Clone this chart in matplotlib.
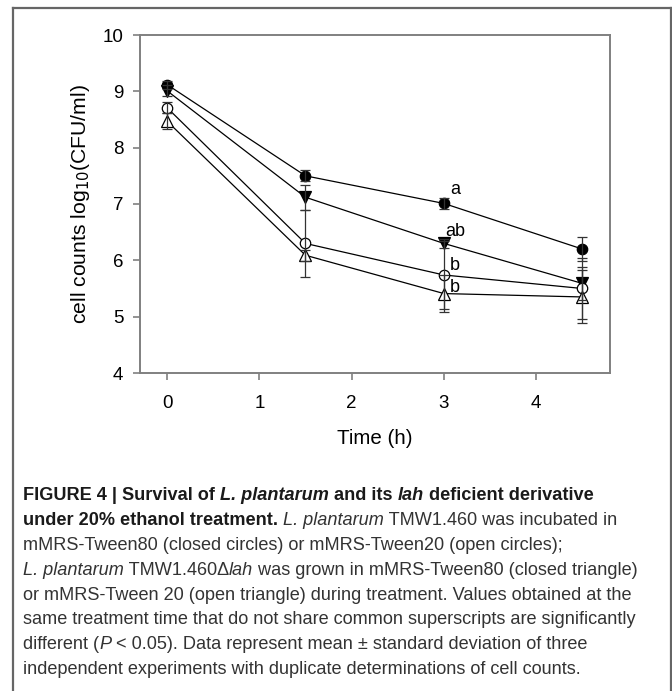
import matplotlib
matplotlib.use("Agg")
import matplotlib.pyplot as plt
from matplotlib.lines import Line2D

plt.rcParams['font.family'] = ['Liberation Sans', 'DejaVu Sans']

# data
time_h = [0, 1.5, 3, 4.5]
wt_t80 = [9.12, 7.50, 7.01, 6.20]      # closed circles
wt_t80_sd = [0.07, 0.10, 0.10, 0.22]
lah_t80 = [9.01, 7.12, 6.30, 5.59]     # closed triangles
lah_t80_sd = [0.10, 0.22, 0.08, 0.30]
wt_t20 = [8.71, 6.30, 5.74, 5.50]      # open circles
wt_t20_sd = [0.10, 0.60, 0.60, 0.55]
lah_t20 = [8.47, 6.09, 5.41, 5.35]     # open triangles
lah_t20_sd = [0.14, 0.10, 0.33, 0.47]

letters = ['a', 'ab', 'b', 'b']
letter_y = [7.26, 6.52, 5.90, 5.52]

W, H = 672, 691
fig = plt.figure(figsize=(W / 100, H / 100), dpi=100)
ax = fig.add_axes([140 / W, 1 - 373 / H, 470 / W, 338 / H])

series = [
    (wt_t80, wt_t80_sd, 'o', 'black'),
    (lah_t80, lah_t80_sd, 'v', 'black'),
    (wt_t20, wt_t20_sd, 'o', 'white'),
    (lah_t20, lah_t20_sd, '^', 'white'),
]
for y, sd, m, fc in series:
    ax.plot(time_h, y, color='black', lw=0.9, marker=m, ms=7.5 if m == 'o' else 8,
            mfc=fc, mec='black', mew=0.9, zorder=2)
    ax.errorbar(time_h, y, yerr=sd, fmt='none', ecolor='#333333', elinewidth=0.9,
                capsize=3.5, capthick=0.9, zorder=3)

for lab, ly in zip(letters, letter_y):
    ax.text(3.12, ly, lab, fontsize=13, ha='center', va='center')

ax.set_xlim(-0.293, 4.80)
ax.set_ylim(4, 10)
ax.set_xticks([0, 1, 2, 3, 4])
ax.set_yticks([4, 5, 6, 7, 8, 9, 10])
for s in ax.spines.values():
    s.set_color('#808080')
    s.set_linewidth(1.4)
ax.tick_params(direction='out', length=5, width=1.2, color='#808080', labelsize=13.5)
ax.tick_params(axis='x', pad=11)
ax.tick_params(axis='y', pad=7)
ax.set_xlabel('Time (h)', fontsize=14.8)
ax.xaxis.set_label_coords(0.5, -(429 - 373) / 338)
ax.set_ylabel('cell counts log$_{10}$(CFU/ml)', fontsize=15.2)
ax.yaxis.set_label_coords(-(140 - 92) / 470, 0.5)

# outer frame
fr = dict(color='#666666', lw=1.6, transform=fig.transFigure)
fig.add_artist(Line2D([13 / W, 671 / W], [1 - 8 / H, 1 - 8 / H], **fr))
fig.add_artist(Line2D([13 / W, 13 / W], [1 - 8 / H, -0.01], **fr))
fig.add_artist(Line2D([671 / W, 671 / W], [1 - 8 / H, -0.01], **fr))

# caption with mixed styles
caption = [
    [("FIGURE 4 | Survival of ", 'bold', 'normal'), ("L. plantarum", 'bold', 'italic'),
     (" and its ", 'bold', 'normal'), ("lah", 'bold', 'italic'),
     (" deficient derivative", 'bold', 'normal')],
    [("under 20% ethanol treatment.", 'bold', 'normal'), (" ", 'normal', 'normal'),
     ("L. plantarum", 'normal', 'italic'), (" TMW1.460 was incubated in", 'normal', 'normal')],
    [("mMRS-Tween80 (closed circles) or mMRS-Tween20 (open circles);", 'normal', 'normal')],
    [("L. plantarum", 'normal', 'italic'), (" TMW1.460\u0394", 'normal', 'normal'),
     ("lah", 'normal', 'italic'),
     (" was grown in mMRS-Tween80 (closed triangle)", 'normal', 'normal')],
    [("or mMRS-Tween 20 (open triangle) during treatment. Values obtained at the", 'normal', 'normal')],
    [("same treatment time that do not share common superscripts are significantly", 'normal', 'normal')],
    [("different (", 'normal', 'normal'), ("P", 'normal', 'italic'),
     (" < 0.05). Data represent mean \u00b1 standard deviation of three", 'normal', 'normal')],
    [("independent experiments with duplicate determinations of cell counts.", 'normal', 'normal')],
]
renderer = fig.canvas.get_renderer()
y0 = 496
for i, line in enumerate(caption):
    x = 23
    yy = 1 - (y0 + i * 24.8) / H
    for txt, wt, st in line:
        t = fig.text(x / W, yy, txt, fontsize=13.1, fontweight=wt, fontstyle=st,
                     color='#1a1a1a' if wt == 'bold' else '#333333', va='center', ha='left')
        bb = t.get_window_extent(renderer)
        x += bb.width

fig.savefig('out.png', dpi=100)
